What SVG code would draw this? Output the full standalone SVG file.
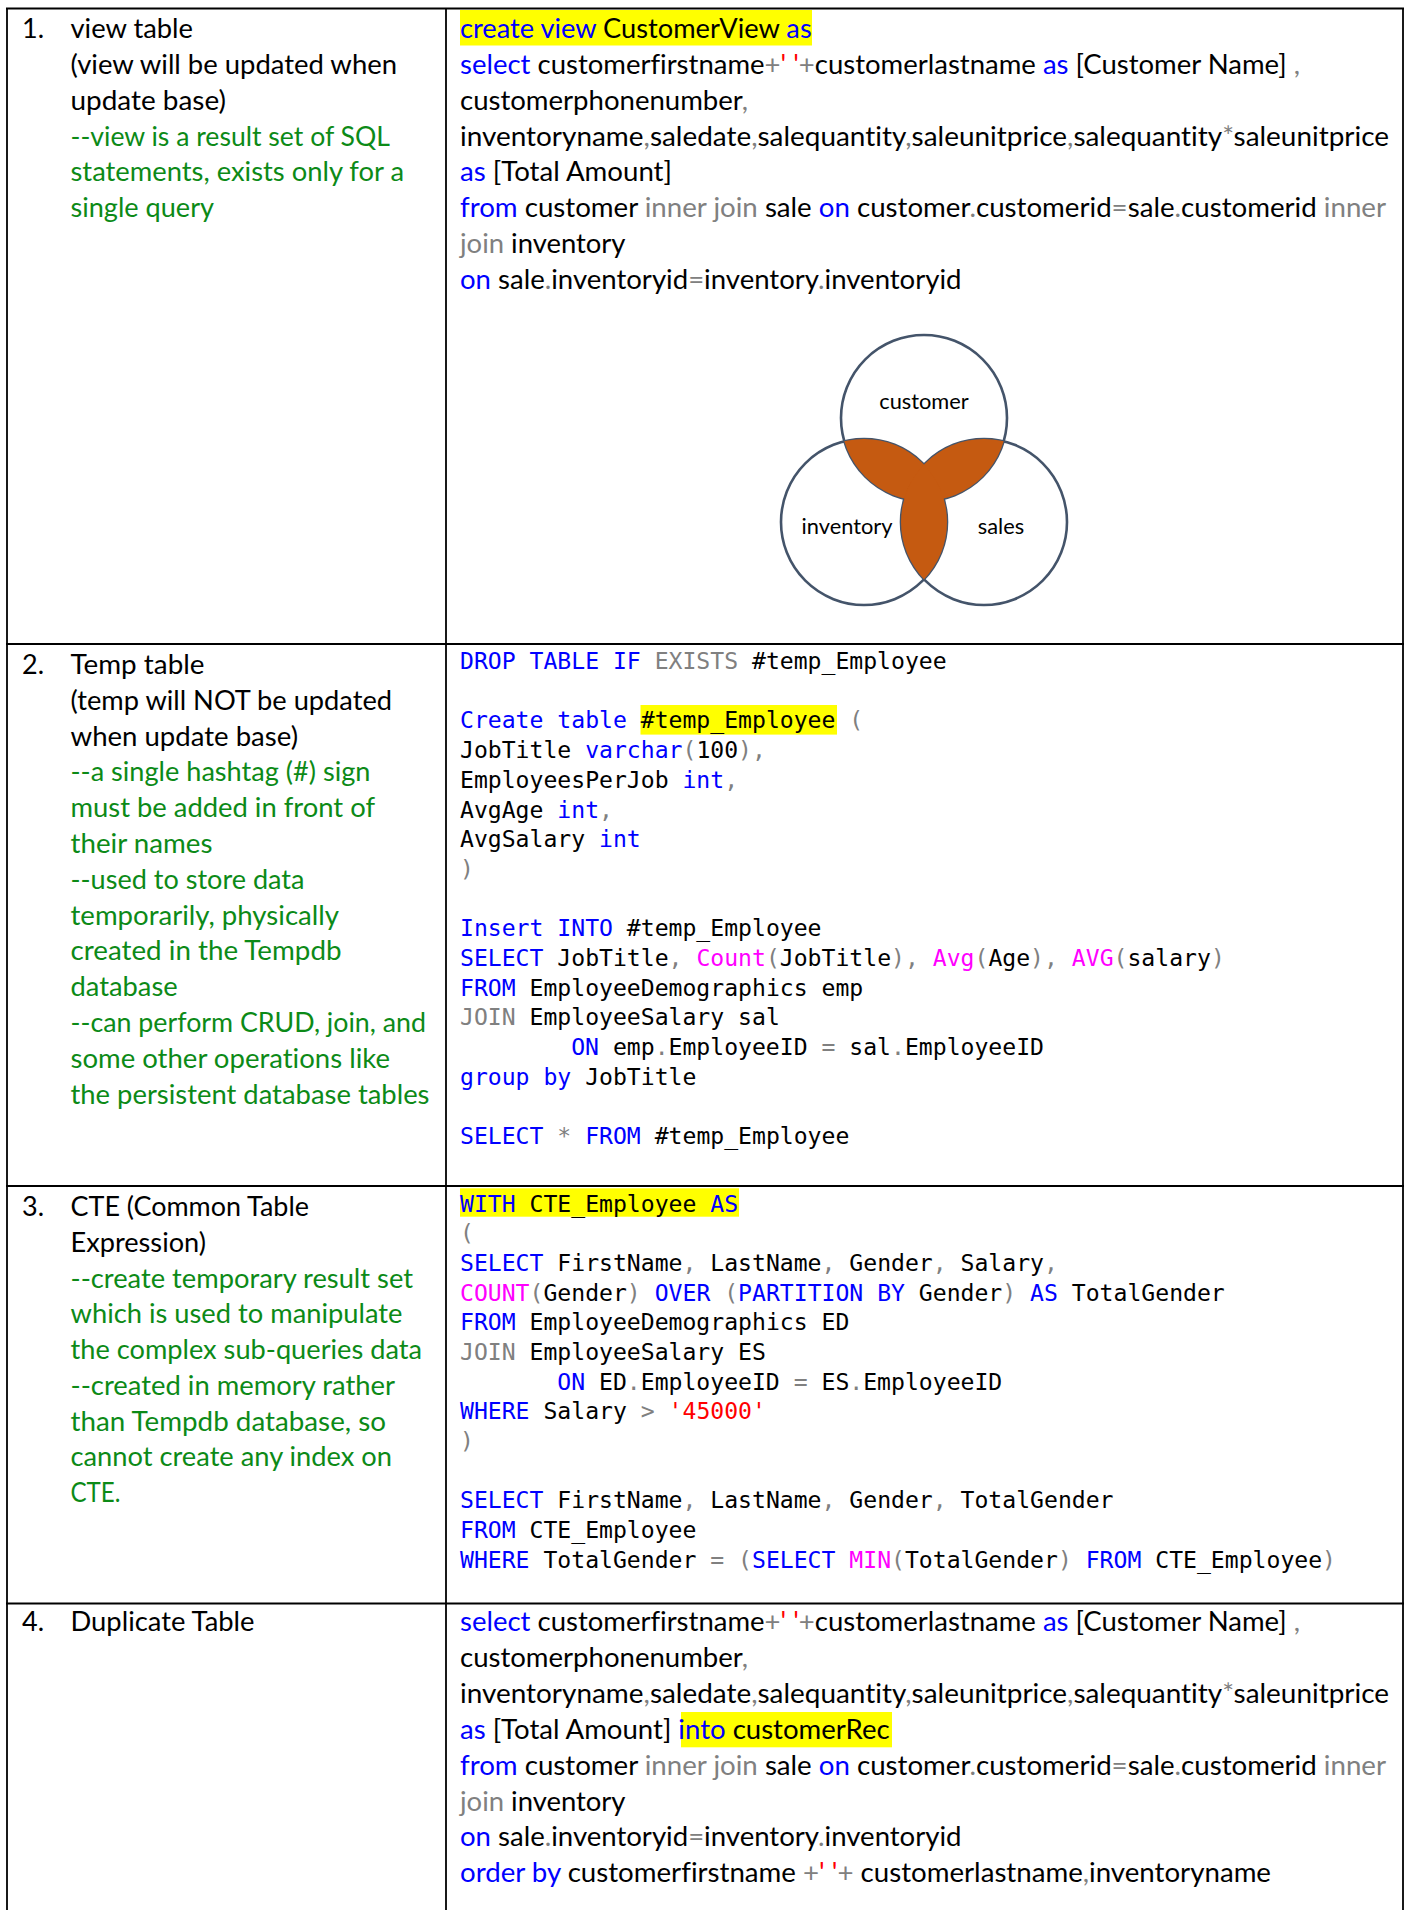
<svg xmlns="http://www.w3.org/2000/svg" width="1407" height="1910" viewBox="0 0 1407 1910">
<style>
text{font-variant-ligatures:none;font-feature-settings:"liga" 0}
.t{font-family:Lato,"Liberation Sans",sans-serif;font-size:27px;fill:#000}
.g{fill:#0c8a17}
.c{font-family:"DejaVu Sans Mono","Liberation Mono",monospace;font-size:23.1px;fill:#000}
.k{fill:#0000ff}
.p{fill:#808080}
.f{fill:#ff00ff}
.s{fill:#ff0000}
.hl{fill:#ffff00}
.grid{stroke:#000;stroke-width:1.8;fill:none}
.ring{fill:none;stroke:#44546a;stroke-width:2.6}
.lab{font-family:Lato,"Liberation Sans",sans-serif;font-size:21.8px;fill:#000;text-anchor:middle}
</style>
<defs>
<clipPath id="cA"><circle cx="924" cy="418" r="83"/></clipPath>
<clipPath id="cB"><circle cx="864" cy="522" r="83"/></clipPath>
</defs>
<rect width="1407" height="1910" fill="#fff"/>

<g id="table-grid">
<line class="grid" x1="6" y1="8.5" x2="1404" y2="8.5"/>
<line class="grid" x1="7" y1="8.5" x2="7" y2="1910"/>
<line class="grid" x1="446" y1="8.5" x2="446" y2="1910"/>
<line class="grid" x1="1403" y1="8.5" x2="1403" y2="1910"/>
<line class="grid" x1="6" y1="644" x2="1404" y2="644"/>
<line class="grid" x1="6" y1="1186" x2="1404" y2="1186"/>
<line class="grid" x1="6" y1="1603.5" x2="1404" y2="1603.5"/>
</g>

<g id="row1-label">
<text class="t" x="22" y="37.8">1.</text>
<text class="t" x="70.5" y="37.8" textLength="122.5" lengthAdjust="spacingAndGlyphs">view table</text>
<text class="t" x="70.5" y="73.7" textLength="326.5" lengthAdjust="spacingAndGlyphs">(view will be updated when</text>
<text class="t" x="70.5" y="109.6" textLength="155.5" lengthAdjust="spacingAndGlyphs">update base)</text>
<text class="t g" x="70.5" y="145.5" textLength="319.5" lengthAdjust="spacingAndGlyphs">--view is a result set of SQL</text>
<text class="t g" x="70.5" y="181.4" textLength="333.5" lengthAdjust="spacingAndGlyphs">statements, exists only for a</text>
<text class="t g" x="70.5" y="217.3" textLength="143.5" lengthAdjust="spacingAndGlyphs">single query</text>
</g>

<g id="row1-code">
<rect class="hl" x="460" y="10" width="352" height="35.5"/>
<text class="t" x="460" y="37.8" textLength="351.7" lengthAdjust="spacingAndGlyphs"><tspan class="k">create view</tspan> CustomerView <tspan class="k">as</tspan></text>
<text class="t" x="460" y="73.7" textLength="840" lengthAdjust="spacingAndGlyphs"><tspan class="k">select</tspan> customerfirstname<tspan class="p">+</tspan><tspan class="s">' '</tspan><tspan class="p">+</tspan>customerlastname <tspan class="k">as</tspan> [Customer Name] <tspan class="p">,</tspan></text>
<text class="t" x="460" y="109.6" textLength="288" lengthAdjust="spacingAndGlyphs">customerphonenumber<tspan class="p">,</tspan></text>
<text class="t" x="460" y="145.5" textLength="929" lengthAdjust="spacingAndGlyphs">inventoryname<tspan class="p">,</tspan>saledate<tspan class="p">,</tspan>salequantity<tspan class="p">,</tspan>saleunitprice<tspan class="p">,</tspan>salequantity<tspan class="p">*</tspan>saleunitprice</text>
<text class="t" x="460" y="181.4" textLength="212" lengthAdjust="spacingAndGlyphs"><tspan class="k">as</tspan> [Total Amount]</text>
<text class="t" x="460" y="217.3" textLength="926" lengthAdjust="spacingAndGlyphs"><tspan class="k">from</tspan> customer <tspan class="p">inner join</tspan> sale <tspan class="k">on</tspan> customer<tspan class="p">.</tspan>customerid<tspan class="p">=</tspan>sale<tspan class="p">.</tspan>customerid <tspan class="p">inner</tspan></text>
<text class="t" x="460" y="253.2" textLength="165.5" lengthAdjust="spacingAndGlyphs"><tspan class="p">join</tspan> inventory</text>
<text class="t" x="460" y="289.1" textLength="501.5" lengthAdjust="spacingAndGlyphs"><tspan class="k">on</tspan> sale<tspan class="p">.</tspan>inventoryid<tspan class="p">=</tspan>inventory<tspan class="p">.</tspan>inventoryid</text>
</g>

<g id="venn">
<circle class="ring" cx="924" cy="418" r="83"/>
<circle class="ring" cx="864" cy="522" r="83"/>
<circle class="ring" cx="984" cy="522" r="83"/>
<circle cx="864" cy="522" r="83" fill="#c55a11" clip-path="url(#cA)"/>
<circle cx="984" cy="522" r="83" fill="#c55a11" clip-path="url(#cA)"/>
<circle cx="984" cy="522" r="83" fill="#c55a11" clip-path="url(#cB)"/>
<text class="lab" x="924" y="409">customer</text>
<text class="lab" x="847" y="534">inventory</text>
<text class="lab" x="1001" y="534">sales</text>
</g>

<g id="row2-label">
<text class="t" x="22" y="674">2.</text>
<text class="t" x="70.5" y="674" textLength="134" lengthAdjust="spacingAndGlyphs">Temp table</text>
<text class="t" x="70.5" y="709.8" textLength="321.5" lengthAdjust="spacingAndGlyphs">(temp will NOT be updated</text>
<text class="t" x="70.5" y="745.6" textLength="227.5" lengthAdjust="spacingAndGlyphs">when update base)</text>
<text class="t g" x="70.5" y="781.4" textLength="300" lengthAdjust="spacingAndGlyphs">--a single hashtag (#) sign</text>
<text class="t g" x="70.5" y="817.2" textLength="304.5" lengthAdjust="spacingAndGlyphs">must be added in front of</text>
<text class="t g" x="70.5" y="853" textLength="142" lengthAdjust="spacingAndGlyphs">their names</text>
<text class="t g" x="70.5" y="888.8" textLength="234" lengthAdjust="spacingAndGlyphs">--used to store data</text>
<text class="t g" x="70.5" y="924.6" textLength="268.5" lengthAdjust="spacingAndGlyphs">temporarily, physically</text>
<text class="t g" x="70.5" y="960.4" textLength="271" lengthAdjust="spacingAndGlyphs">created in the Tempdb</text>
<text class="t g" x="70.5" y="996.2" textLength="107.2" lengthAdjust="spacingAndGlyphs">database</text>
<text class="t g" x="70.5" y="1032" textLength="355.5" lengthAdjust="spacingAndGlyphs">--can perform CRUD, join, and</text>
<text class="t g" x="70.5" y="1067.8" textLength="319.5" lengthAdjust="spacingAndGlyphs">some other operations like</text>
<text class="t g" x="70.5" y="1103.6" textLength="359" lengthAdjust="spacingAndGlyphs">the persistent database tables</text>
</g>

<g id="row2-code">
<rect class="hl" x="640.5" y="705" width="196.5" height="29.6"/>
<text class="c" x="460" y="669"><tspan class="k">DROP TABLE IF</tspan> <tspan class="p">EXISTS</tspan> #temp_Employee</text>
<text class="c" x="460" y="728.4"><tspan class="k">Create table</tspan> #temp_Employee <tspan class="p">(</tspan></text>
<text class="c" x="460" y="758.1">JobTitle <tspan class="k">varchar</tspan><tspan class="p">(</tspan>100<tspan class="p">),</tspan></text>
<text class="c" x="460" y="787.8">EmployeesPerJob <tspan class="k">int</tspan><tspan class="p">,</tspan></text>
<text class="c" x="460" y="817.5">AvgAge <tspan class="k">int</tspan><tspan class="p">,</tspan></text>
<text class="c" x="460" y="847.2">AvgSalary <tspan class="k">int</tspan></text>
<text class="c p" x="460" y="876.9">)</text>
<text class="c" x="460" y="936.3"><tspan class="k">Insert INTO</tspan> #temp_Employee</text>
<text class="c" x="460" y="966"><tspan class="k">SELECT</tspan> JobTitle<tspan class="p">,</tspan> <tspan class="f">Count</tspan><tspan class="p">(</tspan>JobTitle<tspan class="p">),</tspan> <tspan class="f">Avg</tspan><tspan class="p">(</tspan>Age<tspan class="p">),</tspan> <tspan class="f">AVG</tspan><tspan class="p">(</tspan>salary<tspan class="p">)</tspan></text>
<text class="c" x="460" y="995.7"><tspan class="k">FROM</tspan> EmployeeDemographics emp</text>
<text class="c" x="460" y="1025.4"><tspan class="p">JOIN</tspan> EmployeeSalary sal</text>
<text class="c" x="571.2" y="1055.1"><tspan class="k">ON</tspan> emp<tspan class="p">.</tspan>EmployeeID <tspan class="p">=</tspan> sal<tspan class="p">.</tspan>EmployeeID</text>
<text class="c" x="460" y="1084.8"><tspan class="k">group by</tspan> JobTitle</text>
<text class="c" x="460" y="1144.2"><tspan class="k">SELECT</tspan> <tspan class="p">*</tspan> <tspan class="k">FROM</tspan> #temp_Employee</text>
</g>

<g id="row3-label">
<text class="t" x="22" y="1216.2">3.</text>
<text class="t" x="70.5" y="1216.2" textLength="238.5" lengthAdjust="spacingAndGlyphs">CTE (Common Table</text>
<text class="t" x="70.5" y="1251.9" textLength="135.5" lengthAdjust="spacingAndGlyphs">Expression)</text>
<text class="t g" x="70.5" y="1287.7" textLength="342.5" lengthAdjust="spacingAndGlyphs">--create temporary result set</text>
<text class="t g" x="70.5" y="1323.4" textLength="332" lengthAdjust="spacingAndGlyphs">which is used to manipulate</text>
<text class="t g" x="70.5" y="1359.2" textLength="351.5" lengthAdjust="spacingAndGlyphs">the complex sub-queries data</text>
<text class="t g" x="70.5" y="1394.9" textLength="324.5" lengthAdjust="spacingAndGlyphs">--created in memory rather</text>
<text class="t g" x="70.5" y="1430.7" textLength="315.5" lengthAdjust="spacingAndGlyphs">than Tempdb database, so</text>
<text class="t g" x="70.5" y="1466.4" textLength="321.5" lengthAdjust="spacingAndGlyphs">cannot create any index on</text>
<text class="t g" x="70.5" y="1502.2" textLength="50" lengthAdjust="spacingAndGlyphs">CTE.</text>
</g>

<g id="row3-code">
<rect class="hl" x="460" y="1188.3" width="279" height="28.4"/>
<text class="c" x="460" y="1211.5"><tspan class="k">WITH</tspan> CTE_Employee <tspan class="k">AS</tspan></text>
<text class="c p" x="460" y="1241.2">(</text>
<text class="c" x="460" y="1270.8"><tspan class="k">SELECT</tspan> FirstName<tspan class="p">,</tspan> LastName<tspan class="p">,</tspan> Gender<tspan class="p">,</tspan> Salary<tspan class="p">,</tspan></text>
<text class="c" x="460" y="1300.5"><tspan class="f">COUNT</tspan><tspan class="p">(</tspan>Gender<tspan class="p">)</tspan> <tspan class="k">OVER</tspan> <tspan class="p">(</tspan><tspan class="k">PARTITION BY</tspan> Gender<tspan class="p">)</tspan> <tspan class="k">AS</tspan> TotalGender</text>
<text class="c" x="460" y="1330.2"><tspan class="k">FROM</tspan> EmployeeDemographics ED</text>
<text class="c" x="460" y="1359.8"><tspan class="p">JOIN</tspan> EmployeeSalary ES</text>
<text class="c" x="557.3" y="1389.5"><tspan class="k">ON</tspan> ED<tspan class="p">.</tspan>EmployeeID <tspan class="p">=</tspan> ES<tspan class="p">.</tspan>EmployeeID</text>
<text class="c" x="460" y="1419.2"><tspan class="k">WHERE</tspan> Salary <tspan class="p">&gt;</tspan> <tspan class="s">'45000'</tspan></text>
<text class="c p" x="460" y="1448.8">)</text>
<text class="c" x="460" y="1508.2"><tspan class="k">SELECT</tspan> FirstName<tspan class="p">,</tspan> LastName<tspan class="p">,</tspan> Gender<tspan class="p">,</tspan> TotalGender</text>
<text class="c" x="460" y="1537.9"><tspan class="k">FROM</tspan> CTE_Employee</text>
<text class="c" x="460" y="1567.5"><tspan class="k">WHERE</tspan> TotalGender <tspan class="p">=</tspan> <tspan class="p">(</tspan><tspan class="k">SELECT</tspan> <tspan class="f">MIN</tspan><tspan class="p">(</tspan>TotalGender<tspan class="p">)</tspan> <tspan class="k">FROM</tspan> CTE_Employee<tspan class="p">)</tspan></text>
</g>

<g id="row4-label">
<text class="t" x="22" y="1631">4.</text>
<text class="t" x="70.5" y="1631" textLength="184" lengthAdjust="spacingAndGlyphs">Duplicate Table</text>
</g>

<g id="row4-code">
<rect class="hl" x="681" y="1712" width="211" height="35.3"/>
<text class="t" x="460" y="1631" textLength="840" lengthAdjust="spacingAndGlyphs"><tspan class="k">select</tspan> customerfirstname<tspan class="p">+</tspan><tspan class="s">' '</tspan><tspan class="p">+</tspan>customerlastname <tspan class="k">as</tspan> [Customer Name] <tspan class="p">,</tspan></text>
<text class="t" x="460" y="1666.9" textLength="288" lengthAdjust="spacingAndGlyphs">customerphonenumber<tspan class="p">,</tspan></text>
<text class="t" x="460" y="1702.8" textLength="929" lengthAdjust="spacingAndGlyphs">inventoryname<tspan class="p">,</tspan>saledate<tspan class="p">,</tspan>salequantity<tspan class="p">,</tspan>saleunitprice<tspan class="p">,</tspan>salequantity<tspan class="p">*</tspan>saleunitprice</text>
<text class="t" x="460" y="1738.7" textLength="429.6" lengthAdjust="spacingAndGlyphs"><tspan class="k">as</tspan> [Total Amount] <tspan class="k">into</tspan> customerRec</text>
<text class="t" x="460" y="1774.6" textLength="926" lengthAdjust="spacingAndGlyphs"><tspan class="k">from</tspan> customer <tspan class="p">inner join</tspan> sale <tspan class="k">on</tspan> customer<tspan class="p">.</tspan>customerid<tspan class="p">=</tspan>sale<tspan class="p">.</tspan>customerid <tspan class="p">inner</tspan></text>
<text class="t" x="460" y="1810.5" textLength="165.5" lengthAdjust="spacingAndGlyphs"><tspan class="p">join</tspan> inventory</text>
<text class="t" x="460" y="1846.4" textLength="501.5" lengthAdjust="spacingAndGlyphs"><tspan class="k">on</tspan> sale<tspan class="p">.</tspan>inventoryid<tspan class="p">=</tspan>inventory<tspan class="p">.</tspan>inventoryid</text>
<text class="t" x="460" y="1882.3" textLength="811" lengthAdjust="spacingAndGlyphs"><tspan class="k">order by</tspan> customerfirstname <tspan class="p">+</tspan><tspan class="s">' '</tspan><tspan class="p">+</tspan> customerlastname<tspan class="p">,</tspan>inventoryname</text>
</g>
</svg>
